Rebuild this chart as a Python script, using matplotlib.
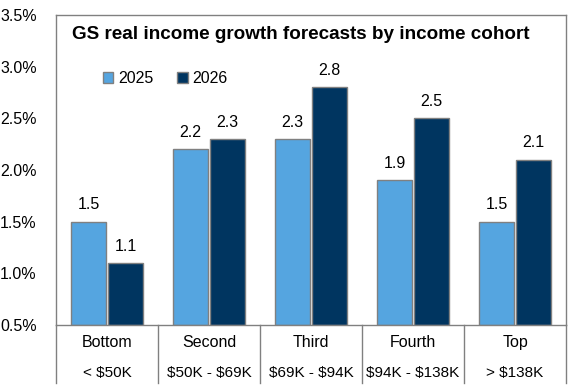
import numpy as np
import matplotlib
matplotlib.use("Agg")
import matplotlib.pyplot as plt

plt.rcParams['font.family'] = ['Liberation Sans', 'DejaVu Sans']
plt.rcParams['text.parse_math'] = False

# data
cohorts = ['Bottom', 'Second', 'Third', 'Fourth', 'Top']
ranges = ['< $50K', '$50K - $69K', '$69K - $94K', '$94K - $138K', '> $138K']
growth_2025 = [1.5, 2.2, 2.3, 1.9, 1.5]
growth_2026 = [1.1, 2.3, 2.8, 2.5, 2.1]
yticks = [0.5, 1.0, 1.5, 2.0, 2.5, 3.0, 3.5]

C25 = '#55A5E0'
C26 = '#003560'
EDGE = '#808080'
FS = 11.5

fig = plt.figure(figsize=(5.77, 3.92), dpi=100)
ax = fig.add_axes([0.0971, 0.171, 0.8839, 0.791])

x = np.arange(len(cohorts))
w = 0.343
off = 0.182
ax.bar(x - off, np.array(growth_2025) - 0.5, w, bottom=0.5, color=C25,
       edgecolor=EDGE, linewidth=1, label='2025')
ax.bar(x + off, np.array(growth_2026) - 0.5, w, bottom=0.5, color=C26,
       edgecolor=EDGE, linewidth=1, label='2026')

for xi, v in zip(x - off, growth_2025):
    ax.text(xi, v + 0.09, f'{v:.1f}', ha='center', va='bottom', fontsize=FS)
for xi, v in zip(x + off, growth_2026):
    ax.text(xi, v + 0.09, f'{v:.1f}', ha='center', va='bottom', fontsize=FS)

ax.set_xlim(-0.5, len(cohorts) - 0.5)
ax.set_ylim(0.5, 3.5)
ax.set_yticks(yticks)
ax.set_yticklabels([f'{t:.1f}%' for t in yticks], fontsize=FS)
ax.tick_params(axis='y', length=0, pad=14)
ax.set_xticks([])
for s in ax.spines.values():
    s.set_color(EDGE)
    s.set_linewidth(1)

# category table below the axis
xt = ax.get_xaxis_transform()
for i in range(len(cohorts) + 1):
    ax.plot([i - 0.5, i - 0.5], [0, -0.187], transform=xt,
            color=EDGE, lw=1, clip_on=False)
for i, (c, r) in enumerate(zip(cohorts, ranges)):
    ax.text(i, -0.058, c, transform=xt, ha='center', va='center', fontsize=FS)
    ax.text(i, -0.155, r, transform=xt, ha='center', va='center', fontsize=11)

ax.text(0.032, 0.936, 'GS real income growth forecasts by income cohort',
        transform=ax.transAxes, fontsize=13.6, fontweight='bold', ha='left', va='center')

ax.legend(loc='upper left', bbox_to_anchor=(0.064, 0.865), ncol=2, frameon=False,
          fontsize=FS, handlelength=0.65, handleheight=0.65, handletextpad=0.3,
          columnspacing=1.5)

fig.savefig('out.png', dpi=100, facecolor='white')
